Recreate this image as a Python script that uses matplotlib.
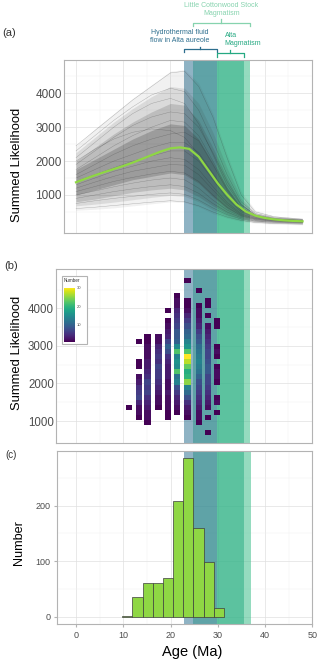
import matplotlib
matplotlib.use('Agg')
import matplotlib.pyplot as plt
import numpy as np
from matplotlib.colors import Normalize
from matplotlib.patches import Rectangle
from matplotlib.cm import ScalarMappable

plt.rcParams['font.family'] = ['Liberation Sans', 'DejaVu Sans']

W, H = 320, 664

# ================= data
# panel (a): summed likelihood curves, read at these ages (Ma)
age_nodes = [0, 4, 8, 12, 16, 20, 23, 26, 29, 32, 35, 38, 42, 48]
lik_max = [2450, 2950, 3400, 3850, 4250, 4650, 4700, 4300, 3400, 2200, 1100, 550, 380, 300]
lik_q95 = [2250, 2700, 3150, 3550, 3900, 4200, 4150, 3700, 2850, 1800, 900, 480, 345, 285]
lik_q90 = [2000, 2400, 2800, 3150, 3450, 3700, 3650, 3200, 2400, 1500, 750, 430, 320, 270]
lik_q75 = [1750, 2050, 2350, 2650, 2900, 3100, 3050, 2650, 1950, 1200, 620, 380, 290, 250]
lik_q25 = [1000, 1150, 1300, 1450, 1550, 1650, 1600, 1350, 950, 600, 380, 280, 230, 190]
lik_q10 = [800, 880, 980, 1080, 1150, 1200, 1150, 950, 680, 450, 300, 230, 195, 165]
lik_q05 = [680, 730, 790, 860, 930, 990, 960, 800, 560, 380, 260, 200, 165, 140]
lik_min = [550, 580, 620, 680, 740, 800, 780, 650, 450, 320, 220, 170, 140, 120]

lik_curves = [
    [2450, 2900, 3350, 3800, 4200, 4600, 4650, 4200, 3300, 2100, 1000, 500, 360, 290],
    [2300, 2750, 3200, 3600, 3950, 4150, 4050, 3500, 2600, 1600, 800, 450, 340, 280],
    [2100, 2550, 3000, 3400, 3700, 3850, 3700, 3100, 2200, 1300, 700, 420, 320, 270],
    [1900, 2300, 2700, 3050, 3300, 3450, 3400, 3000, 2250, 1400, 720, 410, 310, 265],
    [1750, 2100, 2450, 2750, 3000, 3200, 3150, 2750, 2000, 1200, 640, 390, 300, 255],
    [2000, 2350, 2650, 2850, 2950, 2900, 2700, 2200, 1600, 1000, 560, 370, 290, 250],
    [1600, 1900, 2200, 2450, 2650, 2800, 2850, 2600, 1900, 1150, 600, 380, 290, 245],
    [1500, 1750, 2000, 2200, 2400, 2550, 2550, 2250, 1650, 1000, 540, 350, 275, 235],
    [1400, 1600, 1800, 2000, 2150, 2300, 2300, 2000, 1450, 900, 500, 330, 265, 225],
    [1300, 1500, 1700, 1850, 2000, 2100, 2050, 1750, 1250, 780, 450, 310, 255, 220],
    [1200, 1380, 1550, 1700, 1800, 1900, 1880, 1600, 1150, 720, 420, 300, 245, 210],
    [1100, 1250, 1400, 1520, 1620, 1700, 1650, 1400, 1000, 640, 390, 280, 235, 200],
    [1000, 1120, 1240, 1350, 1440, 1500, 1450, 1200, 850, 560, 360, 260, 220, 190],
    [900, 1000, 1100, 1180, 1250, 1300, 1250, 1050, 750, 500, 330, 240, 205, 180],
    [750, 830, 900, 960, 1020, 1060, 1020, 850, 620, 420, 290, 220, 190, 165],
    [600, 640, 690, 740, 790, 830, 800, 680, 500, 350, 250, 190, 160, 140],
]

mean_age = [0, 2, 4, 6, 8, 10, 12, 14, 16, 18, 20, 22, 24,
            26, 28, 30, 32, 34, 36, 38, 40, 42, 44, 46, 48]
mean_lik = [1375, 1480, 1580, 1675, 1765, 1855, 1955, 2065, 2175, 2285, 2375, 2405, 2360,
            2130, 1740, 1350, 1012, 717, 510, 390, 322, 280, 253, 235, 224]

# panel (b): 2d bins, one column per age, counts per likelihood bin (0 = empty)
heat_age = [11.3, 13.3, 15.15, 17.45, 19.5, 21.45, 23.6, 26.05, 27.95, 29.85]
heat_width = 1.35
heat_y0 = 616
heat_dy = 135.6
heat_counts = [
    [0, 0, 0, 0, 0, 1, 0, 0, 0, 0, 0, 0, 0, 0, 0, 0, 0, 0, 0, 0, 0, 0, 0, 0, 0, 0, 0, 0, 0, 0, 0],
    [0, 0, 0, 1, 2, 2, 4, 7, 6, 5, 3, 2, 0, 1, 1, 0, 0, 0, 1, 0, 0, 0, 0, 0, 0, 0, 0, 0, 0, 0, 0],
    [0, 0, 1, 2, 2, 3, 4, 5, 7, 6, 7, 5, 4, 3, 3, 2, 2, 2, 1, 1, 0, 0, 0, 0, 0, 0, 0, 0, 0, 0, 0],
    [0, 0, 0, 0, 0, 1, 2, 2, 3, 4, 5, 6, 6, 7, 5, 6, 5, 4, 2, 2, 0, 0, 0, 0, 0, 0, 0, 0, 0, 0, 0],
    [0, 0, 0, 1, 1, 2, 2, 2, 3, 2, 2, 3, 3, 3, 4, 5, 8, 10, 7, 4, 3, 2, 1, 0, 1, 0, 0, 0, 0, 0, 0],
    [0, 0, 0, 0, 1, 2, 3, 4, 6, 8, 14, 12, 22, 15, 16, 14, 22, 15, 10, 9, 9, 7, 6, 5, 4, 2, 2, 1, 0, 0, 0],
    [0, 0, 0, 1, 2, 3, 5, 8, 11, 14, 25, 20, 19, 23, 27, 30, 22, 16, 14, 11, 10, 8, 6, 4, 2, 1, 1, 0, 0, 0, 1],
    [0, 0, 1, 2, 2, 3, 4, 5, 6, 7, 8, 10, 12, 13, 14, 13, 12, 11, 9, 8, 6, 4, 3, 2, 2, 1, 0, 0, 1, 0, 0],
    [1, 0, 0, 1, 0, 2, 3, 4, 5, 6, 7, 7, 9, 9, 8, 7, 7, 6, 5, 4, 3, 2, 0, 1, 0, 1, 1, 0, 0, 0, 0],
    [0, 0, 0, 0, 1, 0, 2, 1, 0, 0, 1, 2, 2, 1, 0, 1, 2, 1, 0, 0, 0, 1, 1, 0, 0, 0, 0, 0, 0, 0, 0],
]

# panel (c): histogram of ages
hist_start = 9.8
hist_binw = 2.15
hist_count = [1, 35, 60, 60, 69, 209, 285, 160, 99, 16]

# shaded intervals (Ma)
hydro_span = (22.86, 29.78)
lc_span = (24.7, 36.93)
alta_span = (29.78, 35.49)

HYDRO_COL = '#337594'
LC_COL = '#3ebf8c'
ALTA_COL = '#2daf86'


def fig_ax(left, top, right, bottom):
    return fig.add_axes([left / W, 1 - bottom / H, (right - left) / W, (bottom - top) / H])


def style(ax, labelsize):
    ax.set_facecolor('white')
    for s in ax.spines.values():
        s.set_color('#b3b3b3')
        s.set_linewidth(0.8)
    ax.set_axisbelow(True)
    ax.grid(True, which='major', color='#e0e0e0', lw=0.5)
    ax.grid(True, which='minor', color='#eeeeee', lw=0.3)
    ax.tick_params(labelsize=labelsize, labelcolor='#4d4d4d', color='#b3b3b3')
    ax.set_xticks(range(0, 51, 10))
    ax.set_xticks(range(5, 50, 10), minor=True)
    ax.tick_params(which='minor', length=0)


def add_bands(ax):
    ax.axvspan(*lc_span, color=LC_COL, alpha=0.55, lw=0, zorder=1)
    ax.axvspan(*hydro_span, color=HYDRO_COL, alpha=0.55, lw=0, zorder=1.1)
    ax.axvspan(*alta_span, color=ALTA_COL, alpha=0.55, lw=0, zorder=1.2)


def bracket(ax, span, y, down, up, color):
    tr = ax.get_xaxis_transform()
    x0, x1 = span
    xm = (x0 + x1) / 2
    ax.plot([x0, x0, x1, x1], [down, y, y, down], transform=tr, clip_on=False, color=color, lw=0.9)
    ax.plot([xm, xm], [y, up], transform=tr, clip_on=False, color=color, lw=0.9)


fig = plt.figure(figsize=(W / 100, H / 100), dpi=100)
fig.patch.set_facecolor('white')

# ================= panel (a)
ax1 = fig_ax(64, 60, 312, 233)
style(ax1, 8.5)
add_bands(ax1)
for lo, hi, a in [(lik_min, lik_max, 0.07), (lik_q05, lik_q95, 0.12),
                  (lik_q10, lik_q90, 0.18), (lik_q25, lik_q75, 0.25)]:
    ax1.fill_between(age_nodes, lo, hi, color='#3a3a3a', alpha=a, lw=0, zorder=2)
for c in lik_curves:
    ax1.plot(age_nodes, c, color='#2b2b2b', lw=0.3, alpha=0.35, zorder=2.5)
ax1.plot(mean_age, mean_lik, color='#8fd744', lw=1.6, zorder=3)
ax1.set_xlim(-2.54, 50.0)
ax1.set_ylim(-121, 4982)
ax1.set_yticks([1000, 2000, 3000, 4000])
ax1.set_yticks([500, 1500, 2500, 3500, 4500], minor=True)
ax1.tick_params(axis='x', labelbottom=False, length=0)
ax1.tick_params(axis='y', length=0, pad=1.5)

bracket(ax1, lc_span, 1.2156, 1.198, 1.235, '#86d3ae')
bracket(ax1, hydro_span, 1.0618, 1.0445, 1.077, '#2d6e8e')
bracket(ax1, alta_span, 1.0387, 1.019, 1.058, '#25a982')
tr1 = ax1.get_xaxis_transform()
ax1.text(30.8, 1.294, 'Little Cottonwood Stock\nMagmatism', transform=tr1, ha='center', va='center',
         fontsize=5, color='#86d3ae', clip_on=False)
ax1.text(22.0, 1.1376, 'Hydrothermal fluid\nflow in Alta aureole', transform=tr1, ha='center', va='center',
         fontsize=5, color='#2d6e8e', clip_on=False)
ax1.text(31.5, 1.117, 'Alta\nMagmatism', transform=tr1, ha='left', va='center',
         fontsize=5, color='#25a982', clip_on=False)

# ================= panel (b)
ax2 = fig_ax(56, 269.3, 312, 443)
style(ax2, 8.3)
add_bands(ax2)
norm = Normalize(vmin=1, vmax=30)
y_edges = heat_y0 + heat_dy * np.arange(len(heat_counts[0]) + 1)
for age, col in zip(heat_age, heat_counts):
    z = np.ma.masked_equal(np.array(col, dtype=float).reshape(-1, 1), 0)
    ax2.pcolormesh([age - heat_width / 2, age + heat_width / 2], y_edges, z,
                   cmap='viridis', norm=norm, zorder=3)
ax2.set_xlim(-4.23, 50.0)
ax2.set_ylim(415, 5040)
ax2.set_yticks([1000, 2000, 3000, 4000])
ax2.set_yticks([1500, 2500, 3500, 4500], minor=True)
ax2.tick_params(axis='x', labelbottom=False, length=0)
ax2.tick_params(axis='y', length=0, pad=1.5)

# legend box + colorbar
fig.patches.append(Rectangle((61.7 / W, 1 - 344 / H), 25 / W, 68 / H, transform=fig.transFigure,
                             facecolor='white', edgecolor='#b3b3b3', lw=0.8, zorder=5))
cax = fig_ax(64, 287.7, 75, 341.7)
cax.set_zorder(6)
cb = fig.colorbar(ScalarMappable(norm=norm, cmap='viridis'), cax=cax, ticks=[10, 20, 30])
cb.outline.set_visible(False)
cax.tick_params(labelsize=3, length=0, pad=1.5, labelcolor='#4d4d4d')
fig.text(63.5 / W, 1 - 281 / H, 'Number', fontsize=3.3, ha='left', va='center', color='#333333', zorder=7)

# ================= panel (c)
ax3 = fig_ax(57.3, 450.7, 312.3, 624)
style(ax3, 6.5)
add_bands(ax3)
hist_left = hist_start + hist_binw * np.arange(len(hist_count))
ax3.bar(hist_left, hist_count, width=hist_binw, align='edge', color='#8fd744',
        edgecolor='#3d3d3d', lw=0.5, zorder=3)
ax3.set_xlim(-3.96, 50.0)
ax3.set_ylim(-13, 299)
ax3.set_yticks([0, 100, 200])
ax3.set_yticks([50, 150, 250], minor=True)
ax3.tick_params(axis='both', length=2.5, pad=2.5)

# ================= labels
fig.text(2 / W, 1 - 33 / H, '(a)', fontsize=8, color='#333333', va='center', ha='left')
fig.text(4 / W, 1 - 266 / H, '(b)', fontsize=8, color='#333333', va='center', ha='left')
fig.text(5 / W, 1 - 455 / H, '(c)', fontsize=7, color='#333333', va='center', ha='left')
fig.text(17 / W, 1 - 164.5 / H, 'Summed Likelihood', rotation=90, fontsize=9.4, va='center', ha='center')
fig.text(17 / W, 1 - 352.8 / H, 'Summed Likelihood', rotation=90, fontsize=9.4, va='center', ha='center')
fig.text(19 / W, 1 - 542.5 / H, 'Number', rotation=90, fontsize=9.1, va='center', ha='center')
fig.text(191.7 / W, 1 - 652 / H, 'Age (Ma)', fontsize=10.5, va='center', ha='center')

fig.savefig('out.png', dpi=100, facecolor='white')
